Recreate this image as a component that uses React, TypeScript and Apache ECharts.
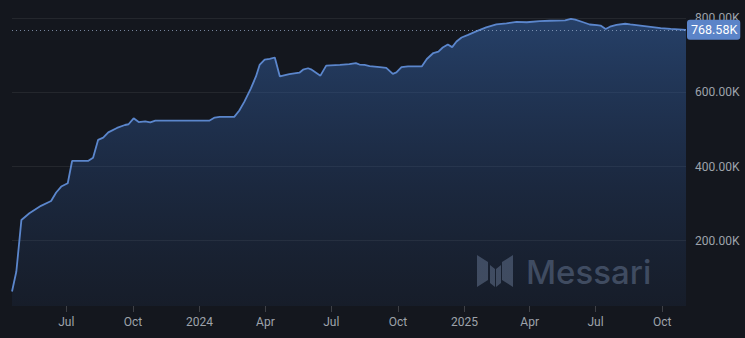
import React, { useEffect, useRef } from "react";
import * as echarts from "echarts";

const dates: string[] = [
  "2023-04-17","2023-04-23","2023-04-30","2023-05-11","2023-05-27","2023-06-10","2023-06-17","2023-06-24",
  "2023-07-03","2023-07-09","2023-07-31","2023-08-07","2023-08-14","2023-08-21","2023-08-28","2023-09-09",
  "2023-09-20","2023-09-25","2023-10-02","2023-10-09","2023-10-18","2023-10-25","2023-11-01","2024-01-15",
  "2024-01-22","2024-01-29","2024-02-18","2024-02-25","2024-03-03","2024-03-12","2024-03-19","2024-03-24",
  "2024-03-31","2024-04-07","2024-04-14","2024-04-21","2024-05-04","2024-05-18","2024-05-23","2024-05-30",
  "2024-06-03","2024-06-16","2024-06-24","2024-07-13","2024-07-26","2024-08-04","2024-08-09","2024-08-16",
  "2024-08-23","2024-09-06","2024-09-15","2024-09-24","2024-09-29","2024-10-06","2024-10-15","2024-11-03",
  "2024-11-10","2024-11-19","2024-11-26","2024-12-02","2024-12-09","2024-12-15","2024-12-21","2024-12-28",
  "2025-01-06","2025-01-18","2025-01-31","2025-02-14","2025-02-28","2025-03-14","2025-03-28","2025-04-15",
  "2025-04-29","2025-05-20","2025-05-28","2025-06-03","2025-06-14","2025-06-23","2025-07-03","2025-07-08",
  "2025-07-15","2025-07-21","2025-07-30","2025-08-11","2025-08-18","2025-09-01","2025-09-15","2025-09-29",
  "2025-10-13","2025-11-03",
];

const values: number[] = [
  63000,117000,256000,274000,294000,307000,330000,346000,
  355000,415000,415000,424000,472000,478000,492000,504000,
  512000,514000,530000,520000,522000,519000,524000,524000,
  532000,534000,534000,551000,575000,611000,643000,674000,
  688000,690000,694000,643000,649000,653000,661000,665000,
  662000,645000,672000,674000,676000,679000,675000,674000,
  671000,668000,666000,650000,654000,668000,670000,670000,
  690000,706000,710000,721000,729000,722000,737000,748000,
  755000,765000,775000,783000,786000,790000,789000,792000,
  793000,794000,798000,796000,789000,783000,781000,780000,
  771000,777000,782000,785000,783000,780000,776500,773000,
  771000,768580,
];

const yTicks: number[] = [200000, 400000, 600000, 800000];
const yMin = 24000;
const yMax = 849000;
const xMin = "2023-04-17";
const xMax = "2025-11-03";
const watermarkText = "Messari";

const fmtK = (v: number) => (v / 1000).toFixed(2) + "K";

echarts.graphic.registerShape(
  "messariLogo",
  echarts.graphic.extendPath(
    "M0 0 L11 7 L11 25 L0 32 Z M13 10 L18 14 L18 32 L13 28 Z M19 14 L24 10 L24 28 L19 32 Z M25 7 L36 0 L36 32 L25 25 Z",
    {}
  )
);

export default function App() {
  const ref = useRef<HTMLDivElement>(null);

  useEffect(() => {
    document.body.style.margin = "0";
    const chart = echarts.init(ref.current!, null, { renderer: "svg" });
    const last = values[values.length - 1];
    const seriesData = dates.map((d, i) => [d, values[i]]);
    chart.setOption({
      animation: false,
      backgroundColor: "#14171e",
      grid: { left: 12, right: 59, top: 0, bottom: 32, outerBoundsMode: "none" },
      xAxis: {
        type: "time",
        min: xMin,
        max: xMax,
        splitNumber: 10,
        minInterval: 85 * 86400000,
        maxInterval: 100 * 86400000,
        axisLine: { show: false },
        axisTick: { show: true, length: 6, lineStyle: { color: "rgba(255,255,255,0.18)" } },
        splitLine: { show: false },
        axisLabel: {
          color: "#9ea3ab",
          fontSize: 12,
          fontFamily: "Roboto",
          margin: 10,
          formatter: { year: "{yyyy}", month: "{MMM}", day: "{MMM}" },
        },
      },
      yAxis: {
        type: "value",
        position: "right",
        min: yMin,
        max: yMax,
        splitNumber: 4,
        axisLine: { show: false },
        axisTick: { show: false },
        splitLine: {
          show: true,
          showMinLine: false,
          showMaxLine: false,
          lineStyle: { color: "rgba(255,255,255,0.07)", width: 1 },
        },
        axisLabel: {
          color: "#9ea3ab",
          fontSize: 12,
          fontFamily: "Roboto",
          margin: 9,
          showMinLabel: false,
          showMaxLabel: false,
          formatter: (v: number) => (yTicks.indexOf(v) >= 0 ? fmtK(v) : ""),
        },
      },
      series: [
        {
          type: "line",
          data: seriesData,
          showSymbol: false,
          symbol: "none",
          lineStyle: { color: "#5b86cc", width: 1.8 },
          areaStyle: {
            color: new echarts.graphic.LinearGradient(0, 0, 0, 1, [
              { offset: 0, color: "rgba(54,102,172,0.74)" },
              { offset: 0.5, color: "rgba(46,86,150,0.45)" },
              { offset: 1, color: "rgba(40,70,120,0.18)" },
            ]),
          },
          markLine: {
            silent: true,
            symbol: ["none", "none"],
            data: [{ yAxis: last }],
            lineStyle: { color: "rgba(160,180,210,0.7)", type: [1, 3], width: 1 },
            label: {
              show: true,
              position: "end",
              distance: 1,
              formatter: () => fmtK(last),
              color: "#ffffff",
              fontSize: 12.5,
              fontFamily: "Roboto",
              backgroundColor: "#5b84c8",
              borderRadius: 3,
              padding: [4, 3, 3, 4],
              lineHeight: 13,
            },
          },
        },
      ],
      graphic: [
        {
          type: "messariLogo",
          x: 477,
          y: 255,
          scaleX: 1,
          scaleY: 1,
          silent: true,
          style: { fill: "#444c5b" },
        },
        {
          type: "text",
          x: 526,
          y: 272,
          silent: true,
          style: {
            text: watermarkText,
            fill: "#444c5b",
            fontSize: 33,
            fontWeight: 500,
            fontFamily: "Inter",
            verticalAlign: "middle",
            align: "left",
          },
        },
      ],
    });
    return () => chart.dispose();
  }, []);

  return (
    <div
      ref={ref}
      style={{ position: "absolute", left: 0, top: 0, width: 745, height: 338 }}
    />
  );
}
